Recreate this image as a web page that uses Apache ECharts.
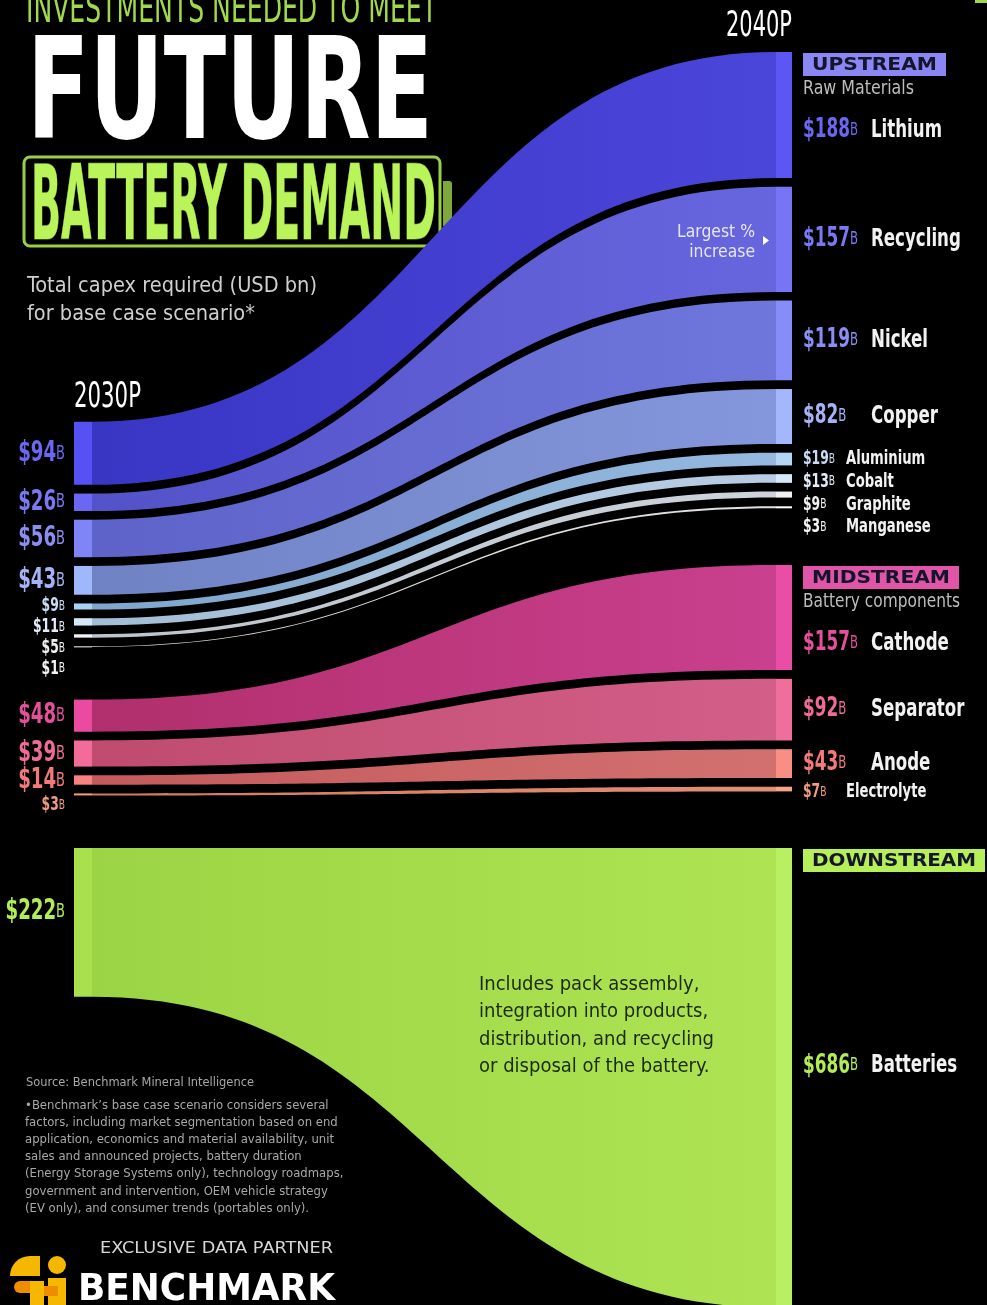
<!DOCTYPE html>
<html><head><meta charset="utf-8">
<script src="https://cdn.jsdelivr.net/npm/echarts@6/dist/echarts.min.js"></script>
<style>html,body{margin:0;padding:0;background:#000;overflow:hidden}#c{width:987px;height:1305px}</style>
</head><body><div id="c"></div>
<script>
// ---------------- DATA ----------------
const categories = ['Lithium','Recycling','Nickel','Copper','Aluminium','Cobalt','Graphite','Manganese','Cathode','Separator','Anode','Electrolyte','Batteries'];
const stages = ['Upstream','Upstream','Upstream','Upstream','Upstream','Upstream','Upstream','Upstream','Midstream','Midstream','Midstream','Midstream','Downstream'];
const capex2030 = [94, 26, 56, 43, 9, 11, 5, 1, 48, 39, 14, 3, 222];
const capex2040 = [188, 157, 119, 82, 19, 13, 9, 3, 157, 92, 43, 7, 686];
const stageOrder = ['Upstream','Midstream','Downstream'];
const stageTitles = ['UPSTREAM','MIDSTREAM','DOWNSTREAM'];
const stageSubtitles = ['Raw Materials','Battery components',''];
const yearLabels = ['2030P','2040P'];

// ---------------- STYLE ----------------
const FONT_N = '"Liberation Sans Narrow","DejaVu Sans Condensed","Roboto Condensed","Open Sans",sans-serif';
const FONT_W = '"DejaVu Sans","Open Sans",sans-serif';
const bandStyles = [
 {sl:'#5651f2', fl:'#3a36c4', fr:'#4b46da', sr:'#5b56f4', lab:'#6b67f0'},
 {sl:'#6a68f2', fl:'#5452c8', fr:'#6766de', sr:'#7775f6', lab:'#7a78f2'},
 {sl:'#7f84f6', fl:'#5d63c8', fr:'#6f76dc', sr:'#868cf8', lab:'#8a8ef2'},
 {sl:'#9fb8fc', fl:'#6e82c4', fr:'#8597dc', sr:'#a4b6fc', lab:'#a6b2f6'},
 {sl:'#a9d2f4', fl:'#7fa6cc', fr:'#94b8e0', sr:'#b3d6f6', lab:'#c8dcf4'},
 {sl:'#d4e8fa', fl:'#a3bdd6', fr:'#b8cde4', sr:'#d6e8f8', lab:'#e2ecf8'},
 {sl:'#f4f4f4', fl:'#bcc4cc', fr:'#cdd3da', sr:'#f0f0f0', lab:'#f0f0f0'},
 {sl:'#ffffff', fl:'#d8d8d8', fr:'#e0e0e0', sr:'#ffffff', lab:'#f4f4f4'},
 {sl:'#ea4ba0', fl:'#b12f6c', fr:'#c9408e', sr:'#e94ea6', lab:'#e4509c'},
 {sl:'#f26b9a', fl:'#bf4c6f', fr:'#d35f89', sr:'#f06e9c', lab:'#ee6c96'},
 {sl:'#f88282', fl:'#c45a5c', fr:'#d27070', sr:'#f88e84', lab:'#f27a78'},
 {sl:'#f8a07e', fl:'#d47a62', fr:'#e48e72', sr:'#f8a488', lab:'#f09a80'},
 {sl:'#a8e04e', fl:'#9bd444', fr:'#aee454', sr:'#b8f062', lab:'#b2ec56'}
];
const badgeColors = ['#8a87f5','#e055a8','#b5f05a'];
const badgeWidths = [143, 156, 182];
const subtitleWidths = [111, 157, 0];

// ---------------- LAYOUT (value units) ----------------
const BAND_GAP = 13, AXIS_MAX = 1870, DOWN_TOP = 1188;
const LEFT_START = 552, RIGHT_START = 0;
const idxOf = s => categories.map((c,i)=>i).filter(i => stages[i] === s);
function stackSide(values, start){
  const ext = stageOrder.map(s => { const ix = idxOf(s); return ix.reduce((a,i)=>a+values[i],0) + BAND_GAP*(ix.length-1); });
  const gg = (DOWN_TOP - start - ext[0] - ext[1]) / 2;
  const pos = []; let y = start;
  stageOrder.forEach(s => {
    idxOf(s).forEach((i,j) => { if (j>0) y += BAND_GAP; pos[i] = [y, y+values[i]]; y += values[i]; });
    y += gg;
  });
  return pos;
}
function labelSide(pos, small, hSmall, hBig, headerOff, downShift){
  const out = []; let prevY = -1e9, prevH = 0;
  stageOrder.forEach(s => {
    idxOf(s).forEach((i,j) => {
      const top = pos[i][0], bot = Math.min(pos[i][1], AXIS_MAX);
      let c = (top+bot)/2;
      const h = small[i] ? hSmall : hBig;
      if (j === 0 && headerOff) c = Math.max(c, top + headerOff);
      c = Math.max(c, prevY + (prevH + h)/2);
      if (s === 'Downstream') c -= downShift;
      out[i] = c; prevY = c; prevH = h;
    });
  });
  return out;
}
const posL = stackSide(capex2030, LEFT_START);
const posR = stackSide(capex2040, RIGHT_START);
const smallL = capex2030.map(v => v < 12);
const smallR = capex2040.map(v => v < 20);
const labL = labelSide(posL, smallL, 31, 41, 0, 16);
const labR = labelSide(posR, smallR, 34, 52, 117, 16);
const bandData = categories.map((c,i) => [i, posL[i][0], posL[i][1], posR[i][0], posR[i][1], labL[i], labR[i]]);

const mctx = document.createElement('canvas').getContext('2d');
function measure(text, font){ mctx.font = font; return mctx.measureText(text).width; }
function fitScale(text, font, w){ return w / measure(text, font); }
const VAL_SC = fitScale('$188', 'bold 26px ' + FONT_N, 47);
const NAME_SC = fitScale('Lithium', 'bold 24px ' + FONT_N, 71);

const STRIP_L = 18, STRIP_R = 16;

function renderBand(params, api){
  const i = api.value(0);
  const st = bandStyles[i];
  const pLT = api.coord([0, api.value(1)]), pLB = api.coord([0, api.value(2)]);
  const pRT = api.coord([1, api.value(3)]), pRB = api.coord([1, api.value(4)]);
  const x0 = pLT[0], x3 = pRT[0];
  const x1 = x0 + STRIP_L, x2 = x3 - STRIP_R, xm = (x1 + x2) / 2;
  const d = `M${x1} ${pLT[1]} C${xm} ${pLT[1]} ${xm} ${pRT[1]} ${x2} ${pRT[1]} L${x2} ${pRB[1]} C${xm} ${pRB[1]} ${xm} ${pLB[1]} ${x1} ${pLB[1]} Z`;
  const ch = [
    {type:'path', shape:{pathData:d}, style:{fill:new echarts.graphic.LinearGradient(0,0,1,0,[{offset:0,color:st.fl},{offset:1,color:st.fr}])}},
    {type:'rect', shape:{x:x0, y:pLT[1], width:STRIP_L, height:Math.max(1,pLB[1]-pLT[1])}, style:{fill:st.sl}},
    {type:'rect', shape:{x:x2, y:pRT[1], width:STRIP_R, height:Math.max(1,pRB[1]-pRT[1])}, style:{fill:st.sr}}
  ];
  const yl = api.coord([0, api.value(5)])[1];
  const sL = smallL[i];
  ch.push({type:'text', x:x0-9, y:yl, scaleX:VAL_SC, style:{
    text:`{v|$${capex2030[i]}}{u|B}`, align:'right', verticalAlign:'middle',
    rich:{v:{fontFamily:FONT_N, fontWeight:'bold', fontSize: sL?19:28, fill:st.lab},
          u:{fontFamily:FONT_N, fontSize: sL?14:20, fill:st.lab}}}});
  const yr = api.coord([1, api.value(6)])[1];
  const sR = smallR[i];
  ch.push({type:'text', x:x3+11, y:yr, scaleX:VAL_SC, style:{
    text:`{v|$${capex2040[i]}}{u|B}`, align:'left', verticalAlign:'middle',
    rich:{v:{fontFamily:FONT_N, fontWeight:'bold', fontSize: sR?19:26, fill:st.lab},
          u:{fontFamily:FONT_N, fontSize: sR?14:18, fill:st.lab}}}});
  ch.push({type:'text', x:x3 + (sR?54:79), y:yr, scaleX:NAME_SC, style:{
    text:categories[i], align:'left', verticalAlign:'middle',
    fontFamily:FONT_N, fontWeight:'bold', fontSize: sR?19:24, fill:'#f2f2f2'}});
  const k = stageOrder.indexOf(stages[i]);
  if (idxOf(stages[i])[0] === i){
    const bx = x3 + 11, by = pRT[1] + 1, bw = badgeWidths[k];
    const bf = 'bold 17px ' + FONT_W;
    const sc = fitScale(stageTitles[k], bf, bw - 18);
    ch.push({type:'rect', shape:{x:bx, y:by, width:bw, height:23}, style:{fill:badgeColors[k]}});
    ch.push({type:'text', x:bx + bw/2, y:by + 12.5, scaleX:sc, style:{text:stageTitles[k], font:bf, fill:'#14142a', align:'center', verticalAlign:'middle'}});
    if (stageSubtitles[k]) {
      const sf = '19px ' + FONT_N;
      ch.push({type:'text', x:bx, y:by + 36, scaleX:fitScale(stageSubtitles[k], sf, subtitleWidths[k]), style:{text:stageSubtitles[k], font:sf, fill:'#bdbdbd', align:'left', verticalAlign:'middle'}});
    }
  }
  return {type:'group', children:ch};
}

function fitText(text, font, x, y, w, fill, extra, z){
  const sc = fitScale(text.split('\n').reduce((a,b)=>b.length>a.length?b:a,''), font, w);
  const el = {type:'text', x:x, y:y, scaleX:sc, style:Object.assign({text:text, font:font, fill:fill, align:'left', verticalAlign:'middle'}, extra||{})};
  if (z != null) el.z = z;
  return el;
}
const largestFont = '18px ' + FONT_N;
const graphics = [
  {type:'rect', shape:{x:975,y:0,width:12,height:3}, style:{fill:'#9fd64a'}},
  fitText('INVESTMENTS NEEDED TO MEET', '41px ' + FONT_N, 26, 11, 411, '#a2d84c'),
  fitText('FUTURE', 'bold 140px ' + FONT_N, 27, 102, 406, '#ffffff'),
  {type:'rect', shape:{x:24,y:157,width:416,height:89,r:6}, style:{fill:'#000', stroke:'#9ccf48', lineWidth:3}},
  {type:'rect', shape:{x:443,y:181,width:9,height:45,r:[0,3,3,0]}, style:{fill:'#7ea83c'}},
  fitText('BATTERY DEMAND', 'bold 103px ' + FONT_N, 31, 212, 405, '#b8f45a', {stroke:'#4a6418', lineWidth:1.5}),
  fitText('Total capex required (USD bn)\nfor base case scenario*', '22px ' + FONT_N, 27, 300, 290, '#cfcfcf', {lineHeight:28}),
  fitText(yearLabels[0], '36px ' + FONT_N, 74, 398, 67, '#ffffff'),
  fitText(yearLabels[1], '36px ' + FONT_N, 726, 27, 66, '#ffffff'),
  {type:'text', x:755, y:242, z:100, scaleX:fitScale('Largest %', largestFont, 78), style:{text:'Largest %\nincrease', font:largestFont, fill:'#e6e6f6', align:'right', verticalAlign:'middle', lineHeight:20}},
  {type:'polygon', z:100, shape:{points:[[763,236],[769,240.5],[763,245]]}, style:{fill:'#ffffff'}},
  fitText('Includes pack assembly,\nintegration into products,\ndistribution, and recycling\nor disposal of the battery.', '20px ' + FONT_N, 479, 1026, 235, '#1c2a0c', {lineHeight:27.5}, 100),
  fitText('Source: Benchmark Mineral Intelligence', '12px ' + FONT_N, 26, 1083, 228, '#a8a8a8', null, 100),
  fitText('\u2022Benchmark\u2019s base case scenario considers several\nfactors, including market segmentation based on end\napplication, economics and material availability, unit\nsales and announced projects, battery duration\n(Energy Storage Systems only), technology roadmaps,\ngovernment and intervention, OEM vehicle strategy\n(EV only), and consumer trends (portables only).', '12px ' + FONT_N, 25, 1157, 309, '#a8a8a8', {lineHeight:17.2}, 100),
  fitText('EXCLUSIVE DATA PARTNER', '15px ' + FONT_W, 100, 1249, 233, '#d6d6d6'),
  fitText('BENCHMARK', 'bold 38px ' + FONT_W, 78, 1290, 257, '#ffffff'),
  {type:'circle', shape:{cx:57, cy:1265, r:9}, style:{fill:'#f6b700'}},
  {type:'sector', shape:{cx:30, cy:1276, r0:0, r:20, startAngle:Math.PI, endAngle:Math.PI*1.5}, style:{fill:'#f6b700'}},
  {type:'rect', shape:{x:30, y:1256, width:10, height:20}, style:{fill:'#f6b700'}},
  {type:'rect', shape:{x:14, y:1281, width:28, height:12, r:[6,0,0,6]}, style:{fill:'#f08c00'}},
  {type:'rect', shape:{x:30, y:1281, width:14, height:24}, style:{fill:'#f6b700'}},
  {type:'rect', shape:{x:48, y:1278, width:18, height:27}, style:{fill:'#f6b700'}},
  {type:'rect', shape:{x:44, y:1286, width:14, height:10}, style:{fill:'#f08c00'}}
];

const chart = echarts.init(document.getElementById('c'), null, {renderer:'canvas'});
chart.setOption({
  backgroundColor:'#000',
  animation:false,
  grid:{left:74, right:195, top:52, bottom:0, containLabel:false},
  xAxis:{type:'value', min:0, max:1, show:false},
  yAxis:{type:'value', min:0, max:AXIS_MAX, inverse:true, show:false},
  graphic: graphics,
  series:[{
    type:'custom', renderItem:renderBand, data:bandData, clip:false, z:2,
    encode:{x:-1, y:[1,2,3,4]}
  }]
});
</script></body></html>
